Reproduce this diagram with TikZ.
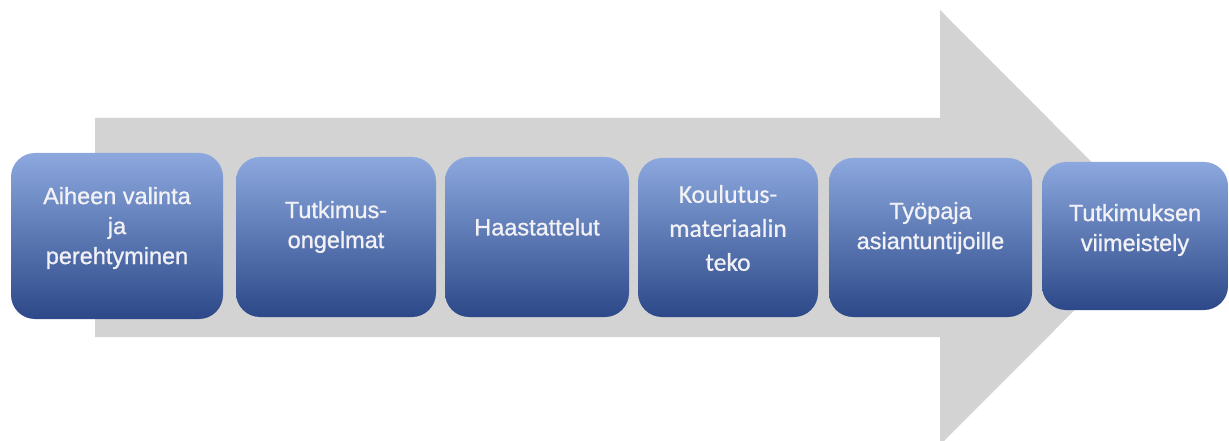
\documentclass[tikz,border=0pt]{standalone}
\usepackage{fontspec}
\setmainfont{Liberation Sans}
\newfontfamily\medfont{Liberation Sans}[FakeBold=0.9]
\newfontfamily\calib{Carlito}[FakeBold=0.7]
\definecolor{arrowgrey}{RGB}{211,211,211}
\definecolor{btop}{RGB}{140,168,222}
\definecolor{bmid}{RGB}{70,114,196}
\definecolor{bbot}{RGB}{44,72,136}
\definecolor{txtc}{RGB}{242,242,246}
\tikzset{
  stepbox/.style={rounded corners=24pt, top color=btop, middle color=bmid, bottom color=bbot, draw=none, inner sep=0pt, rectangle},
  steptxt/.style={text=txtc, align=center, font=\medfont\fontsize{23.5}{30}\selectfont, inner sep=0pt},
  steptxtc/.style={text=txtc, align=center, font=\calib\fontsize{25.5}{34}\selectfont, inner sep=0pt}
}
\begin{document}
\begin{tikzpicture}[x=1pt,y=-1pt]
\useasboundingbox (0,0) rectangle (1229,441);
\begin{scope}
\clip (0,0) rectangle (1229,441);
\fill[arrowgrey] (95,118) -- (940,118) -- (940,10) -- (1157,227.5) -- (940,445) -- (940,337) -- (95,337) -- cycle;
\end{scope}
\node[stepbox, minimum width=212pt, minimum height=166pt] (b1) at (117,236) {};
\node[stepbox, minimum width=200pt, minimum height=160pt] (b2) at (336,237) {};
\node[stepbox, minimum width=184pt, minimum height=160pt] (b3) at (537,237) {};
\node[stepbox, minimum width=180pt, minimum height=159pt] (b4) at (728,237.5) {};
\node[stepbox, minimum width=203pt, minimum height=159pt] (b5) at (930.5,237.5) {};
\node[stepbox, minimum width=186pt, minimum height=148pt] (b6) at (1135,236) {};
\node[steptxt] (t1) at (117,228) {Aiheen valinta\\ja\\perehtyminen};
\node[steptxt] (t2) at (336,227) {Tutkimus-\\ongelmat};
\node[steptxt] (t3) at (537,227) {Haastattelut};
\node[steptxtc] (t4) at (728,228) {Koulutus-\\materiaalin\\teko};
\node[steptxt] (t5) at (930.5,228) {Työpaja\\asiantuntijoille};
\node[steptxt] (t6) at (1135,230) {Tutkimuksen\\viimeistely};
\end{tikzpicture}
\end{document}
